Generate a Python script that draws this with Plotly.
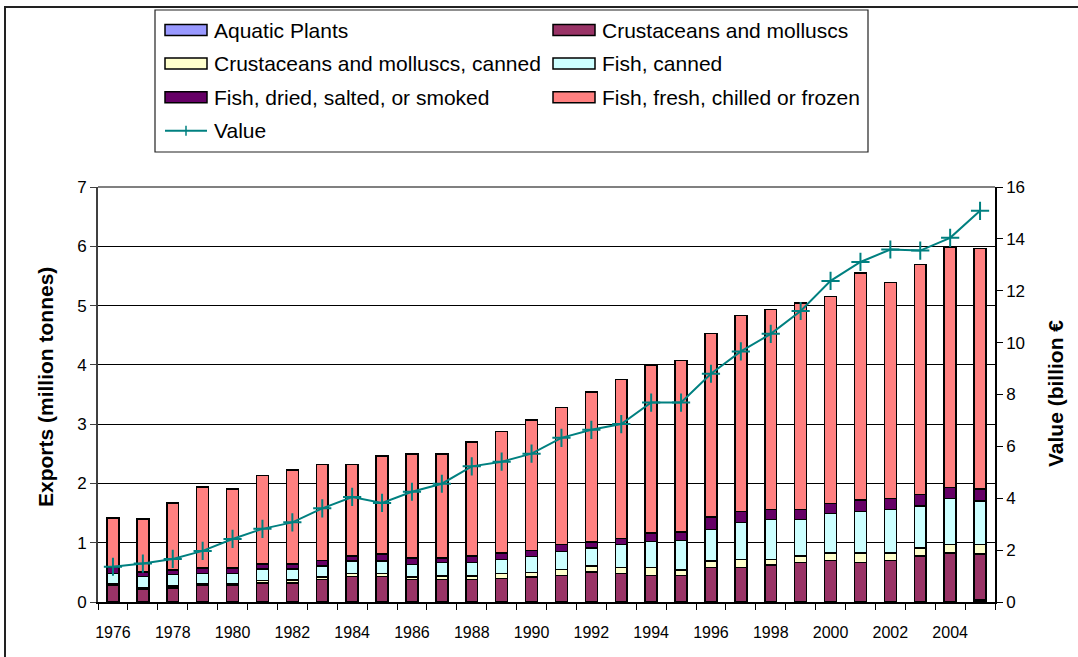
import plotly.graph_objects as go

# ---- data (million tonnes, stacked) ----
years = [str(y) for y in range(1976, 2006)]
aquatic_plants = [0, 0, 0, 0, 0, 0, 0, 0, 0, 0, 0, 0, 0, 0, 0,
                  0, 0, 0, 0, 0, 0, 0, 0, 0, 0, 0, 0, 0, 0, 0.03]
crustaceans = [0.29, 0.22, 0.24, 0.28, 0.28, 0.32, 0.32, 0.38, 0.43, 0.43,
               0.38, 0.38, 0.38, 0.40, 0.42, 0.45, 0.51, 0.48, 0.45, 0.45,
               0.58, 0.58, 0.62, 0.67, 0.70, 0.67, 0.70, 0.78, 0.83, 0.78]
crustaceans_canned = [0.02, 0.02, 0.03, 0.02, 0.02, 0.04, 0.05, 0.04, 0.05, 0.05,
                      0.04, 0.06, 0.06, 0.08, 0.08, 0.10, 0.10, 0.10, 0.13, 0.09,
                      0.11, 0.14, 0.10, 0.11, 0.13, 0.16, 0.13, 0.13, 0.14, 0.16]
fish_canned = [0.17, 0.19, 0.19, 0.18, 0.18, 0.20, 0.19, 0.19, 0.21, 0.21,
               0.21, 0.23, 0.23, 0.24, 0.27, 0.30, 0.30, 0.39, 0.44, 0.50,
               0.53, 0.62, 0.67, 0.61, 0.66, 0.70, 0.73, 0.71, 0.78, 0.73]
fish_dried = [0.11, 0.08, 0.08, 0.09, 0.09, 0.08, 0.08, 0.09, 0.09, 0.12,
              0.11, 0.07, 0.11, 0.11, 0.10, 0.12, 0.10, 0.10, 0.14, 0.14,
              0.21, 0.19, 0.17, 0.17, 0.17, 0.19, 0.19, 0.19, 0.18, 0.21]
fish_fresh = [0.83, 0.89, 1.13, 1.37, 1.34, 1.49, 1.59, 1.62, 1.54, 1.65,
              1.76, 1.76, 1.92, 2.05, 2.20, 2.31, 2.53, 2.68, 2.83, 2.89,
              3.10, 3.30, 3.37, 3.48, 3.49, 3.83, 3.64, 3.88, 4.05, 4.05]
# export value (billion EUR), right axis
value = [1.36, 1.48, 1.66, 1.97, 2.43, 2.82, 3.07, 3.61, 4.05, 3.82,
         4.25, 4.56, 5.23, 5.41, 5.72, 6.33, 6.64, 6.86, 7.69, 7.69,
         8.80, 9.66, 10.34, 11.22, 12.38, 13.11, 13.59, 13.55, 14.04, 15.08]

series_names = ["Aquatic Plants", "Crustaceans and molluscs",
                "Crustaceans and molluscs, canned", "Fish, canned",
                "Fish, dried, salted, or smoked", "Fish, fresh, chilled or frozen"]
series_values = [aquatic_plants, crustaceans, crustaceans_canned,
                 fish_canned, fish_dried, fish_fresh]
series_colors = ["#9999FF", "#993366", "#FFFFCC", "#CCFFFF", "#660066", "#FF8080"]
value_name = "Value"
value_color = "#008080"

tick_text = [y if int(y) % 2 == 0 else "" for y in years]

FONT = "Arial, Liberation Sans, sans-serif"
W, H = 1078, 657
L, R, T, B = 98, 83, 187, 55
PW, PH = W - L - R, H - T - B


def px_x(px):
    return (px - L) / PW


def px_y(py):
    return (H - B - py) / PH


fig = go.Figure()

for name, vals, col in zip(series_names, series_values, series_colors):
    fig.add_trace(go.Bar(
        x=years, y=vals, name=name, width=0.4,
        marker=dict(color=col, line=dict(color="black", width=1.5)),
        showlegend=False,
    ))

fig.add_trace(go.Scatter(
    x=years, y=value, name=value_name, yaxis="y2", mode="lines+markers",
    line=dict(color=value_color, width=2),
    marker=dict(symbol="cross-thin", size=13,
                line=dict(color=value_color, width=2)),
    showlegend=False,
))

shapes = []
annotations = []

# outer chart frame and legend frame
shapes.append(dict(type="rect", xref="paper", yref="paper",
                   x0=px_x(5), x1=px_x(1100), y0=px_y(7), y1=px_y(700),
                   line=dict(color="#222222", width=2), layer="below"))
shapes.append(dict(type="rect", xref="paper", yref="paper",
                   x0=px_x(155), x1=px_x(868), y0=px_y(10), y1=px_y(152),
                   line=dict(color="#222222", width=1.2)))
# top border of the plot area
shapes.append(dict(type="line", xref="paper", yref="paper",
                   x0=0, x1=1, y0=1, y1=1,
                   line=dict(color="#808080", width=2)))

# legend entries
legend_items = list(zip(series_names, series_colors)) + [(value_name, None)]
for i, (name, col) in enumerate(legend_items):
    cx = 165 + (i % 2) * 388
    cy = 30 + (i // 2) * 33.6
    if col is not None:
        shapes.append(dict(type="rect", xref="paper", yref="paper",
                           x0=px_x(cx), x1=px_x(cx + 42),
                           y0=px_y(cy - 5.5), y1=px_y(cy + 5.5),
                           fillcolor=col, line=dict(color="black", width=1.5)))
    else:
        shapes.append(dict(type="line", xref="paper", yref="paper",
                           x0=px_x(cx), x1=px_x(cx + 42),
                           y0=px_y(cy), y1=px_y(cy),
                           line=dict(color=value_color, width=2)))
        shapes.append(dict(type="line", xref="paper", yref="paper",
                           x0=px_x(cx + 21), x1=px_x(cx + 21),
                           y0=px_y(cy - 5), y1=px_y(cy + 5),
                           line=dict(color=value_color, width=1.5)))
    annotations.append(dict(text=name, xref="paper", yref="paper",
                            x=px_x(cx + 47), y=px_y(cy), xanchor="left",
                            yanchor="middle", showarrow=False,
                            font=dict(family=FONT, size=21, color="black")))

# axis titles
annotations.append(dict(text="<b>Exports (million tonnes)</b>", xref="paper",
                        yref="paper", x=px_x(45), y=px_y(387), textangle=-90,
                        showarrow=False, xanchor="center", yanchor="middle",
                        font=dict(family=FONT, size=21, color="black")))
annotations.append(dict(text="<b>Value (billion €</b>", xref="paper",
                        yref="paper", x=px_x(1055), y=px_y(394), textangle=-90,
                        showarrow=False, xanchor="center", yanchor="middle",
                        font=dict(family=FONT, size=21, color="black")))

fig.update_layout(
    width=W, height=H,
    margin=dict(l=L, r=R, t=T, b=B, pad=0),
    paper_bgcolor="white", plot_bgcolor="white",
    barmode="stack",
    font=dict(family=FONT, color="black"),
    shapes=shapes, annotations=annotations,
    xaxis=dict(
        type="category", tickmode="array", tickvals=years, ticktext=tick_text,
        tickson="boundaries", ticks="outside", ticklen=6, tickcolor="black",
        tickangle=0, ticklabelstandoff=15,
        showline=True, linecolor="black", linewidth=1.5,
        showgrid=False, tickfont=dict(family=FONT, size=16),
        range=[-0.5, 29.5],
    ),
    yaxis=dict(
        range=[0, 7], dtick=1, ticks="outside", ticklen=6, tickcolor="#404040",
        showline=True, linecolor="#404040", linewidth=2,
        showgrid=True, gridcolor="black", gridwidth=1,
        tickfont=dict(family=FONT, size=17), zeroline=False,
    ),
    yaxis2=dict(
        range=[0, 16], dtick=2, overlaying="y", side="right",
        ticks="outside", ticklen=6, tickcolor="black",
        showline=True, linecolor="black", linewidth=1.5,
        showgrid=False, zeroline=False,
        tickfont=dict(family=FONT, size=17),
    ),
)

fig.write_html("out.html")
